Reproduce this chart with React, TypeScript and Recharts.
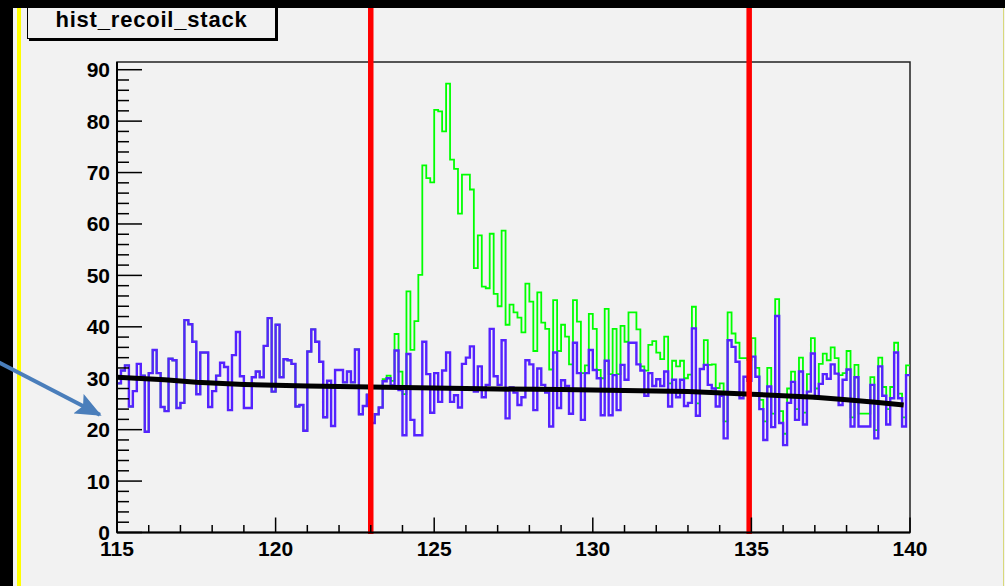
import React from 'react';
import { ComposedChart, Line, XAxis, YAxis, ReferenceLine, ReferenceArea } from 'recharts';

// histogram binning: 200 bins of 0.125 from 115 to 140
const binLow = 115;
const binWidth = 0.125;

// background component (blue), counts per bin
const bkgCounts = [
  29, 31.5, 32.5, 24.5, 27.5, 32.8, 30.5, 19.6, 31, 35.5,
  31, 24.4, 23.6, 33.8, 33.5, 24.2, 25.2, 41.3, 40.5, 37.1,
  26.9, 35, 35, 24.4, 27.5, 30.5, 33, 32.2, 23.8, 34.5,
  39, 30.4, 24.2, 24.2, 30.2, 31.3, 30.2, 36.3, 41.7, 27.4,
  40.4, 30.2, 33.7, 33.5, 32.8, 24.5, 24.8, 19.8, 35.2, 39.5,
  37.1, 33.2, 22.4, 29.5, 20.7, 31.6, 31.6, 29.2, 31.3, 29.2,
  35.6, 23.0, 24.6, 26.8, 21.3, 23.0, 24.3, 29.4, 30.0, 28.6,
  35.4, 27.7, 18.9, 34.7, 21.9, 18.9, 18.9, 37.1, 30.8, 23.3,
  31.0, 25.4, 31.5, 35.0, 25.4, 26.7, 24.3, 32.8, 34.0, 36.2,
  27.4, 32.3, 26.3, 28.7, 39.6, 30.4, 28.7, 37.4, 22.2, 28.2,
  27.2, 24.8, 26.3, 33.5, 32.7, 23.8, 31.9, 28.7, 27.2, 20.6,
  35.0, 24.2, 29.6, 28.5, 23.1, 36.9, 31.0, 21.9, 31.0, 35.5,
  31.6, 30.0, 22.8, 33.4, 22.8, 30.6, 23.8, 32.6, 29.7, 36.9,
  36.9, 32.7, 31.5, 26.6, 31.0, 28.5, 29.8, 28.5, 31.3, 24.5,
  29.7, 26.3, 29.7, 24.6, 25.2, 39.7, 22.7, 31.8, 32.6, 28.7,
  28.0, 24.5, 26.6, 18.3, 37.4, 36.1, 33.2, 26.1, 30.3, 29.5,
  34.2, 30.3, 24.0, 18.0, 28.4, 20.5, 42.1, 21.3, 17.0, 25.2,
  29.3, 21.9, 31.3, 21.0, 27.4, 34.8, 26.1, 28.9, 30.8, 29.9,
  32.7, 30.9, 24.8, 29.7, 31.7, 20.6, 30.2, 20.6, 20.6, 20.6,
  28.7, 18.3, 32.3, 26.6, 21.0, 26.1, 35.0, 26.1, 20.6, 30.6,
];

// signal component stacked on top (green line = bkg + signal)
const sigCounts = [
  0, 0, 0, 0, 0, 0, 0, 0, 0, 0, 0, 0, 0, 0, 0, 0,
  0, 0, 0, 0, 0, 0, 0, 0, 0, 0, 0, 0, 0, 0, 0, 0,
  0, 0, 0, 0, 0, 0, 0, 0, 0, 0, 0, 0, 0, 0, 0, 0,
  0, 0, 0, 0, 0, 0, 0, 0, 0, 0, 0, 0, 0, 0, 0, 0,
  0, 0, 0, 0.4, 0.5, 0.9,
  3.2, 3.6, 8.0, 12.2, 13.6, 22.2, 31.2, 34.3, 38.1, 44.8,
  51.2, 56.5, 46.5, 52.3, 47.1, 44.0, 37.7, 36.8, 35.6, 30.5,
  24.0, 25.5, 21.5, 18.8, 18.5, 16.0, 15.3, 21.3, 18.2, 16.1,
  15.6, 17.0, 12.6, 14.9, 12.2, 11.5, 14.8, 12.1, 12.4, 11.1,
  10.2, 11.1, 10.8, 9.6, 9.6, 8.3, 10.0, 9.1, 1.5, 7.0,
  8.0, 1.6, 7.2, 10.1, 8.0, 9.0, 7.0, 7.6, 7.4, 5.9,
  5.9, 6.8, 0.8, 4.9, 5.5, 8.7, 5.2, 5.2, 6.8, 4.5,
  3.7, 6.0, 3.7, 5.4, 5.5, 4.2, 2.4, 0, 4.8, 3.9,
  4.7, 3.6, 2.4, 3.3, 5.4, 2.6, 3.7, 7.8, 3.6, 4.1,
  3.6, 1.7, 1.8, 3.6, 3.6, 2.6, 3.3, 2.3, 2.2, 2.8,
  2.0, 2.1, 2.7, 2.3, 3.4, 3.0, 1.9, 3.9, 4.0, 3.6,
  3.3, 3.0, 5.8, 1.3, 3.6, 1.8, 2.4, 2.5, 2.5, 2.5,
  1.5, 1.6, 1.7, 1.7, 3.0, 2.2, 1.9, 0.9, 1.8, 1.9,
];

// background fit (black curve)
const fitX = [115, 116.5, 117.5, 119, 121, 123, 125, 127, 129, 131, 133, 135, 136, 137, 138, 139, 139.8];
const fitY = [30.2, 29.7, 29.2, 28.8, 28.5, 28.3, 28.1, 27.9, 27.8, 27.6, 27.4, 26.9, 26.6, 26.3, 25.8, 25.3, 24.8];

const xTicks = [
  115, 116, 117, 118, 119, 120, 121, 122, 123, 124, 125, 126, 127,
  128, 129, 130, 131, 132, 133, 134, 135, 136, 137, 138, 139, 140,
];
const xLabels = [115, 120, 125, 130, 135, 140];
const yTicks = [
  0, 2, 4, 6, 8, 10, 12, 14, 16, 18, 20, 22, 24, 26, 28, 30, 32, 34, 36, 38, 40, 42, 44,
  46, 48, 50, 52, 54, 56, 58, 60, 62, 64, 66, 68, 70, 72, 74, 76, 78, 80, 82, 84, 86, 88, 90,
];
const yLabels = [0, 10, 20, 30, 40, 50, 60, 70, 80, 90];
const yMax = 91.5;

// mass window cuts (red lines)
const cutLow = 123;
const cutHigh = 134.93;

const font = "'Liberation Sans', Arial, Helvetica, sans-serif";
const bg = '#f2f2f2';

const histRows = bkgCounts.map((b, i) => ({
  x: binLow + i * binWidth,
  bkg: b,
  total: b + sigCounts[i],
}));
histRows.push({
  x: binLow + bkgCounts.length * binWidth,
  bkg: bkgCounts[bkgCounts.length - 1],
  total: bkgCounts[bkgCounts.length - 1] + sigCounts[sigCounts.length - 1],
});

const fitRows = fitX.map((x, i) => ({ x, fit: fitY[i] }));

const XTick = (props: any) => {
  const { x, y, payload } = props;
  const major = xLabels.includes(payload.value);
  return (
    <g>
      <line x1={x} y1={y} x2={x} y2={y - (major ? 15 : 7.5)} stroke="#000" strokeWidth={1.5} />
      {major && (
        <text x={x} y={y + 23} textAnchor="middle" fontFamily={font} fontWeight="bold" fontSize={21} fill="#000">
          {payload.value}
        </text>
      )}
    </g>
  );
};

const YTick = (props: any) => {
  const { x, y, payload } = props;
  const major = yLabels.includes(payload.value);
  return (
    <g>
      <line x1={x} y1={y} x2={x + (major ? 25 : 12)} y2={y} stroke="#000" strokeWidth={1.5} />
      {major && (
        <text x={x - 7} y={y + 7.5} textAnchor="end" fontFamily={font} fontWeight="bold" fontSize={21} fill="#000">
          {payload.value}
        </text>
      )}
    </g>
  );
};

const App = () => {
  return (
    <div style={{ position: 'fixed', left: 0, top: 0, width: 1005, height: 586, background: '#000', overflow: 'hidden' }}>
      <svg width={0} height={0} style={{ position: 'absolute' }}>
        <defs>
          <marker id="arrowHead" markerUnits="userSpaceOnUse" markerWidth={26} markerHeight={22} refX={24} refY={11} orient="auto">
            <path d="M0,0 L26,11 L0,22 L5,11 z" fill="#4a7ebb" />
          </marker>
        </defs>
      </svg>
      <div style={{ position: 'absolute', left: 13, top: 0, right: 0, bottom: 0, background: bg }} />
      <div style={{ position: 'absolute', left: 17, top: 0, width: 4, height: 586, background: '#ffff00' }} />
      <div style={{ position: 'absolute', left: 1003, top: 0, width: 1, height: 586, background: '#d9d97a' }} />
      <div
        style={{
          position: 'absolute', left: 27, top: -5, width: 247, height: 42, background: bg,
          border: '1px solid #000', boxShadow: '2px 2px 0 #000',
        }}
      />
      <div
        style={{
          position: 'absolute', left: 27, top: 10, width: 249, textAlign: 'center', lineHeight: '20px',
          fontFamily: font, fontWeight: 'bold', fontSize: 22, letterSpacing: 0.8, color: '#000',
        }}
      >
        hist_recoil_stack
      </div>
      <div style={{ position: 'absolute', left: 0, top: 0 }}>
        <ComposedChart
          width={1005}
          height={586}
          data={histRows}
          margin={{ top: 62, right: 95, left: 57, bottom: 13.5 }}
        >
          <XAxis
            type="number"
            dataKey="x"
            domain={[115, 140]}
            ticks={xTicks}
            interval={0}
            allowDataOverflow
            height={40}
            tickSize={0}
            tickMargin={0}
            tickLine={false}
            axisLine={{ stroke: '#000', strokeWidth: 2 }}
            tick={<XTick />}
          />
          <YAxis
            type="number"
            domain={[0, yMax]}
            ticks={yTicks}
            interval={0}
            allowDataOverflow
            width={60}
            tickSize={0}
            tickMargin={0}
            tickLine={false}
            axisLine={{ stroke: '#000', strokeWidth: 2 }}
            tick={<YTick />}
          />
          <ReferenceArea x1={115} x2={140} y1={0} y2={yMax} fill="none" stroke="#222" strokeWidth={1.5} fillOpacity={0} />
          <Line
            type="stepAfter"
            dataKey="total"
            stroke="#00ff00"
            strokeWidth={1.8}
            dot={false}
            activeDot={false}
            isAnimationActive={false}
          />
          <Line
            type="stepAfter"
            dataKey="bkg"
            stroke="#5522ff"
            strokeWidth={2.4}
            dot={false}
            activeDot={false}
            isAnimationActive={false}
          />
          <Line
            data={fitRows}
            type="linear"
            dataKey="fit"
            stroke="#000"
            strokeWidth={5}
            dot={false}
            activeDot={false}
            isAnimationActive={false}
          />
          <ReferenceLine
            segment={[{ x: cutLow, y: -0.3 }, { x: cutLow, y: 103 }]}
            ifOverflow="visible"
            stroke="#ff0000"
            strokeWidth={5.5}
          />
          <ReferenceLine
            segment={[{ x: cutHigh, y: -0.3 }, { x: cutHigh, y: 103 }]}
            ifOverflow="visible"
            stroke="#ff0000"
            strokeWidth={5.5}
          />
          <ReferenceLine
            segment={[{ x: 110.9, y: 34.3 }, { x: 114.46, y: 22.9 }]}
            ifOverflow="visible"
            shape={(p: any) => (
              <line
                x1={p.x1}
                y1={p.y1}
                x2={p.x2}
                y2={p.y2}
                stroke="#4a7ebb"
                strokeWidth={4}
                markerEnd="url(#arrowHead)"
              />
            )}
          />
        </ComposedChart>
      </div>
      <div style={{ position: 'absolute', left: 0, top: 0, width: 1005, height: 8, background: '#000' }} />
    </div>
  );
};

export default App;
